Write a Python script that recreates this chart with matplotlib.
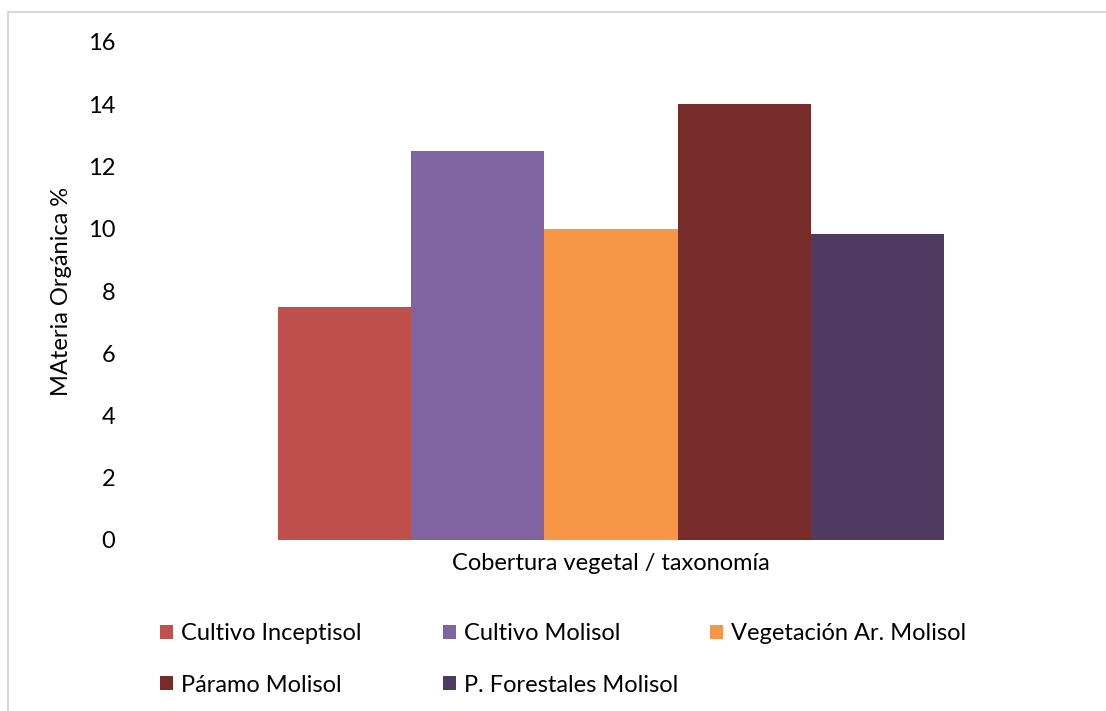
import matplotlib.pyplot as plt
from matplotlib.lines import Line2D

# data
series = ['Cultivo Inceptisol', 'Cultivo Molisol', 'Vegetación Ar. Molisol',
          'Páramo Molisol', 'P. Forestales Molisol']
values = [7.5, 12.5, 10.0, 14.0, 9.83]
colors = ['#c0504d', '#8064a2', '#f79646', '#772c2a', '#4f3b62']
yticks = [0, 2, 4, 6, 8, 10, 12, 14, 16]

plt.rcParams['font.family'] = ['Lato', 'DejaVu Sans']
FS = 17

W, H = 1106, 711
fig = plt.figure(figsize=(W / 100, H / 100), dpi=100)

# plot area in pixels (left, top, right, bottom)
px_l, px_t, px_r, px_b = 128, 42, 1094, 540
ax = fig.add_axes([px_l / W, 1 - px_b / H, (px_r - px_l) / W, (px_b - px_t) / H])

# one category, five series side by side
bw = 1.0
n = len(values)
offsets = [(i - (n - 1) / 2) * bw for i in range(n)]
bars = []
for i in range(n):
    b = ax.bar(offsets[i], values[i], width=bw, color=colors[i], label=series[i])
    bars.append(b)

# bars run from px 278 to 944 in the reference
span = px_r - px_l
left_px, right_px = 278, 944
unit = (right_px - left_px) / (n * bw)
xmin = -(n * bw) / 2 - (left_px - px_l) / unit
xmax = xmin + span / unit
ax.set_xlim(xmin, xmax)
ax.set_ylim(0, 16)
ax.set_yticks(yticks)
ax.set_xticks([])
ax.tick_params(axis='y', length=0, labelsize=FS, pad=9)
for s in ax.spines.values():
    s.set_visible(False)

ax.set_ylabel('MAteria Orgánica %', fontsize=FS)
ax.yaxis.set_label_coords((72 - px_l) / span, 0.5)
fig.text(611 / W, 1 - 563 / H, 'Cobertura vegetal / taxonomía', fontsize=FS,
         ha='center', va='center')

# legend laid out in three columns like the original
cols = [[0, 3], [1, 4], [2]]
col_x = [160, 443, 710]
for c, xs in zip(cols, col_x):
    leg = fig.legend([bars[i] for i in c], [series[i] for i in c],
                     loc='upper left', bbox_to_anchor=(xs / W, 1 - 623 / H),
                     frameon=False, fontsize=FS, handlelength=0.55,
                     handleheight=0.55, handletextpad=0.35, labelspacing=1.3,
                     borderaxespad=0, borderpad=0)

# light grey chart border (top and left edges visible)
fig.add_artist(Line2D([8 / W, 1], [1 - 12 / H, 1 - 12 / H], color='#d9d9d9', lw=1.5))
fig.add_artist(Line2D([8 / W, 8 / W], [0, 1 - 12 / H], color='#d9d9d9', lw=1.5))

fig.savefig('out.png', dpi=100)
